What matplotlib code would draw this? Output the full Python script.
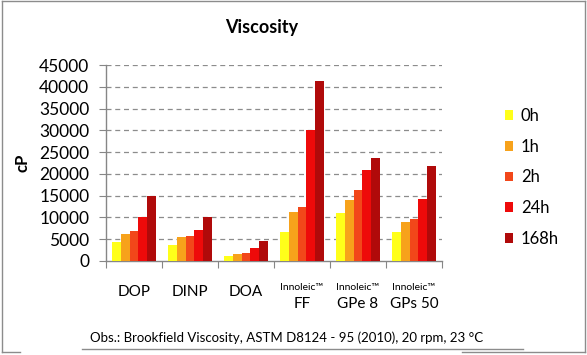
import numpy as np
import matplotlib.pyplot as plt
from matplotlib.patches import Patch
from matplotlib.lines import Line2D
from matplotlib.transforms import blended_transform_factory

plt.rcParams['font.family'] = ['Lato', 'DejaVu Sans']

# Data
categories = ["DOP", "DINP", "DOA", "FF", "GPe 8", "GPs 50"]
prefixes = ["", "", "", "Innoleic\u2122", "Innoleic\u2122", "Innoleic\u2122"]
series = ["0h", "1h", "2h", "24h", "168h"]
values = {
    "0h":   [4300, 3700, 1100, 6700, 11100, 6600],
    "1h":   [6300, 5400, 1700, 11300, 14000, 9000],
    "2h":   [6900, 5800, 1800, 12500, 16300, 9600],
    "24h":  [10200, 7200, 3000, 30100, 20900, 14300],
    "168h": [15000, 10100, 4600, 41400, 23700, 21700],
}
colors = ["#FFFF1A", "#F7A21B", "#F2471A", "#EE0A0A", "#B00A0A"]

fig = plt.figure(figsize=(5.87, 3.55), dpi=100)
ax = fig.add_axes([0.1806, 0.2648, 0.5724, 0.5521])

x = np.arange(len(categories))
w = 0.154
for i, s in enumerate(series):
    ax.bar(x + (i - 2) * w, values[s], width=w, color=colors[i], zorder=3)

ax.set_xlim(-0.5, len(categories) - 0.5)
ax.set_ylim(0, 45000)
ax.set_yticks(np.arange(0, 45001, 5000))
ax.tick_params(axis='y', labelsize=12.5, length=5, color='#868686', pad=7)
ax.set_xticks(np.arange(-0.5, len(categories), 1.0))
ax.set_xticklabels([])
ax.tick_params(axis='x', length=5, color='#868686')
for gy in range(5000, 45001, 5000):
    ax.axhline(gy, color='#8c8c8c', linestyle=(0, (4, 3)), linewidth=0.9, zorder=1)
for sp in ['top', 'right']:
    ax.spines[sp].set_visible(False)
for sp in ['left', 'bottom']:
    ax.spines[sp].set_color('#868686')
    ax.spines[sp].set_linewidth(1.0)

ax.set_ylabel("cP", fontsize=12, fontweight='bold', labelpad=6)

trans = blended_transform_factory(ax.transData, ax.transAxes)
for xi, (cat, pre) in enumerate(zip(categories, prefixes)):
    if pre:
        ax.text(xi, -0.135, pre, transform=trans, ha='center', va='center', fontsize=7.5)
        ax.text(xi, -0.218, cat, transform=trans, ha='center', va='center', fontsize=11)
    else:
        ax.text(xi, -0.158, cat, transform=trans, ha='center', va='center', fontsize=11)

fig.text(262 / 587, 1 - 27 / 355, "Viscosity", ha='center', va='center',
         fontsize=13, fontweight='bold')

handles = [Patch(facecolor=c, label=s) for c, s in zip(colors, series)]
fig.legend(handles=handles, loc='upper left', bbox_to_anchor=(505 / 587, 1 - 108 / 355),
           frameon=False, fontsize=12, handlelength=0.5, handleheight=0.5,
           handletextpad=0.45, labelspacing=0.88, borderaxespad=0, borderpad=0)

fig.text(287 / 587, 1 - 338 / 355,
         "Obs.: Brookfield Viscosity, ASTM D8124 - 95 (2010), 20 rpm, 23 \u00b0C",
         ha='center', va='center', fontsize=9.5)

# frame and rule lines around the picture
gray = '#8c8c8c'
def fig_line(x0, y0, x1, y1):
    fig.add_artist(Line2D([x0 / 587, x1 / 587], [1 - y0 / 355, 1 - y1 / 355],
                          color=gray, linewidth=1.0))
fig_line(2, 1, 585, 1)
fig_line(2, 1, 2, 352)
fig_line(585, 1, 585, 352)
fig_line(2, 352, 20, 352)
fig_line(462, 352, 585, 352)
fig_line(82, 349, 523, 349)

fig.savefig("out.png", dpi=100)
